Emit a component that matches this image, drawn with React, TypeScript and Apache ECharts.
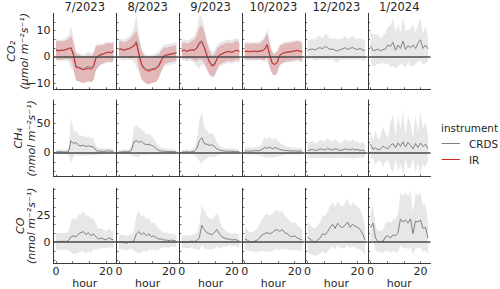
import React, { useEffect, useRef } from 'react';
import * as echarts from 'echarts';

const hours = [0, 1, 2, 3, 4, 5, 6, 7, 8, 9, 10, 11, 12, 13, 14, 15, 16, 17, 18, 19, 20, 21, 22, 23];
const months = ['7/2023', '8/2023', '9/2023', '10/2023', '12/2023', '1/2024'];

// CO2 (µmol m-2 s-1), CRDS instrument, mean and spread per month
const co2CrdsMean = [
  [2.8, 2.5, 2.3, 2.6, 2.9, 3.2, 3.6, 1.0, -3.5, -4.0, -4.2, -4.8, -4.0, -3.6, -4.2, -3.5, -0.2, 0.5, 1.0, 1.2, 1.5, 1.7, 1.6, 2.0],
  [3.0, 2.8, 2.6, 3.0, 3.2, 3.8, 4.5, 6.0, 1.5, -2.5, -4.0, -4.8, -5.0, -4.6, -4.5, -4.0, -3.0, -1.0, 0.5, 0.8, 1.0, 1.2, 1.3, 1.6],
  [2.5, 2.6, 2.2, 2.6, 2.8, 2.7, 3.4, 5.5, 6.2, 3.8, 0.8, -1.5, -3.0, -2.8, -0.8, 0.8, 1.2, 1.6, 2.0, 2.1, 1.8, 2.3, 2.5, 2.2],
  [2.2, 2.0, 2.1, 2.2, 2.0, 2.1, 2.3, 2.4, 3.0, 4.5, 0.8, -2.2, -2.8, -2.0, 0.6, 1.3, 1.6, 1.8, 2.0, 2.1, 2.3, 2.4, 2.1, 1.9],
  [2.5, 2.8, 3.0, 2.6, 3.2, 3.5, 3.0, 4.0, 3.5, 2.8, 3.0, 2.5, 2.2, 2.8, 3.0, 3.5, 2.8, 3.2, 3.6, 3.0, 2.8, 3.2, 2.6, 2.4],
  [4.2, 2.4, 2.5, 3.0, 2.2, 2.8, 3.0, 4.5, 4.0, 5.5, 2.5, 4.5, 3.2, 6.0, 2.8, 4.2, 3.5, 4.5, 3.2, 5.2, 6.5, 3.2, 4.5, 3.0],
];
const co2CrdsSd = [
  [4, 4, 4, 4, 4.5, 5, 8, 6.5, 5.5, 5.5, 5.5, 5.5, 5.5, 5.5, 5.5, 5.5, 5, 4.5, 4, 4, 4, 4, 4, 4],
  [4, 4, 4, 4, 4.5, 5, 6.5, 10, 7, 6, 5.5, 5.5, 5.5, 5.5, 5.5, 5.5, 5, 4.5, 4, 4, 4, 4, 4, 4],
  [4, 4, 4, 4, 4.5, 5, 7, 10, 9, 7, 6, 5.5, 5, 5, 5, 4.5, 4.5, 4.5, 4.5, 4.5, 4.5, 4.5, 4.5, 4.5],
  [3.5, 3.5, 3.5, 3.5, 3.5, 3.5, 3.5, 4, 5, 6, 5, 4.5, 4.5, 4.5, 4, 4, 4, 4, 4, 4, 4, 4, 4, 4],
  [3.5, 3.5, 4, 4, 4.5, 4.5, 4, 5, 4.5, 4, 4, 4.5, 4.5, 4, 4, 4.5, 4, 4, 4.5, 4, 4, 4, 4, 4],
  [6, 6, 6, 5.5, 5, 5, 6, 7, 8, 9, 7, 8, 6, 9, 7, 6, 7, 8, 6, 7, 8, 6, 7, 5],
];
// CO2, IR instrument (first four months only)
const co2IrMean = [
  [2.5, 2.2, 2.6, 2.4, 2.8, 3.0, 3.4, 0.5, -4.0, -4.2, -4.6, -5.0, -4.6, -4.4, -4.8, -3.8, -0.5, 0.3, 0.8, 1.0, 1.6, 1.8, 1.4, 2.2],
  [2.8, 3.0, 2.5, 2.8, 3.0, 3.5, 4.0, 5.2, 1.0, -3.0, -4.5, -5.2, -5.5, -5.0, -4.8, -4.5, -3.5, -1.5, 0.2, 0.5, 0.8, 1.0, 1.2, 1.5],
  [2.2, 2.5, 2.0, 2.4, 2.6, 2.5, 3.2, 5.0, 5.5, 3.5, 0.5, -2.0, -3.5, -3.2, -1.0, 0.5, 1.0, 1.5, 1.8, 2.0, 1.6, 2.2, 2.5, 2.0],
  [2.0, 2.1, 1.9, 2.0, 2.2, 2.0, 2.1, 2.3, 2.8, 4.7, 0.5, -2.5, -3.0, -2.2, 0.5, 1.2, 1.5, 1.8, 1.8, 2.0, 2.2, 2.5, 2.2, 1.8],
];
const co2IrSd = [
  [3.5, 3.5, 3.5, 3.5, 3.5, 3.8, 4.5, 5, 5, 5, 5, 5, 5, 5, 5, 5, 4.5, 4, 3.5, 3.5, 3.5, 3.5, 3.5, 3.5],
  [3, 3, 3, 3, 3.5, 4, 4.5, 5, 5.5, 5.5, 5, 5, 5, 5, 5, 5, 4.5, 4, 3.5, 3, 3, 3, 3, 3],
  [3, 3, 3, 3, 3.5, 4, 5, 6, 6.5, 6, 5, 4.5, 4, 4, 4, 3.5, 3.5, 3.5, 3.5, 3.5, 3.5, 3.5, 3.5, 3.5],
  [3, 3, 3, 3, 3, 3, 3, 3.5, 4, 4.5, 4.5, 4, 4, 4, 3.5, 3.5, 3.5, 3.5, 3.5, 3.5, 3.5, 3.5, 3.5, 3.5],
];
// CH4 (nmol m-2 s-1), CRDS
const ch4Mean = [
  [0.5, 0.8, 1.0, 0.6, 0.5, 0.8, 20, 15, 17, 12, 11, 12, 10, 11, 10, 9, 3, 2, 2, 1.5, 2, 2.5, 2, 1.5],
  [0.5, 0.5, 1, 0.8, 1, 3, 18, 20, 17, 19, 15, 13, 14, 12, 10, 6, 3, 2, 2, 1.5, 1, 1.5, 1, 1],
  [0.5, 0.5, 1, 0.5, 1, 2, 6, 20, 25, 15, 14, 12, 13, 10, 6, 4, 3, 2, 2, 2, 1.5, 1.5, 1, 1],
  [2, 2.5, 2, 2, 3, 2.5, 3, 5, 8, 7, 9, 6, 8, 7, 5, 4, 3, 3, 2.5, 2, 2.5, 2, 2, 2],
  [3, 4, 5, 3, 4, 6, 5, 4, 7, 5, 4, 6, 5, 3, 4, 6, 5, 4, 6, 4, 5, 3, 4, 2],
  [14, 5, 8, 4, 6, 10, 8, 6, 12, 15, 8, 16, 10, 18, 9, 17, 12, 6, 15, 8, 16, 10, 14, 6],
];
const ch4Sd = [
  [4, 4, 4, 4, 4, 5, 40, 22, 20, 18, 17, 17, 16, 16, 15, 14, 8, 6, 5, 5, 5, 5, 5, 4],
  [4, 4, 4, 4, 5, 8, 25, 28, 25, 22, 20, 18, 18, 16, 14, 10, 8, 6, 5, 5, 5, 5, 4, 4],
  [4, 4, 4, 4, 5, 6, 15, 35, 45, 28, 25, 20, 20, 18, 12, 8, 6, 5, 5, 5, 5, 5, 4, 4],
  [6, 6, 6, 6, 6, 7, 8, 12, 18, 16, 18, 15, 16, 14, 12, 10, 8, 7, 7, 6, 6, 6, 6, 6],
  [12, 14, 15, 12, 14, 16, 15, 14, 18, 15, 14, 17, 15, 12, 14, 16, 15, 14, 17, 14, 15, 12, 14, 10],
  [25, 15, 30, 18, 22, 35, 25, 18, 40, 50, 20, 48, 30, 55, 20, 45, 38, 18, 50, 25, 55, 30, 40, 20],
];
// CO (nmol m-2 s-1), CRDS
const coMean = [
  [0.5, 0.8, 0.5, 1, 0.5, 1.5, 5, 6, 5, 8, 9, 10, 7, 9, 6, 8, 5, 3, 4, 3, 2, 4, 3, 2],
  [0.5, 0, -0.5, -1, 0, 0.5, 1, 8, 10, 7, 9, 6, 8, 5, 6, 4, 3, 3, 2, 2, 1.5, 2, 1.5, 1],
  [0, 0.5, 0, 0.5, 1, 0.5, 1.5, 4, 16, 12, 9, 8, 7, 9, 12, 8, 5, 4, 3, 3, 2, 2.5, 2, 1],
  [3, 2, 0.5, 0, 1, 2, 4, 7, 8, 9, 8, 9, 11, 12, 10, 12, 9, 8, 6, 5, 6, 4, 3, 2],
  [5, 3, 1, 0, 2, 4, 8, 7, 10, 14, 17, 13, 18, 15, 14, 16, 19, 14, 17, 15, 14, 12, 8, 2],
  [14, 18, 4, 0.5, 0.5, 1, 5, 6, 4, 7, 6, 9, 22, 19, 21, 18, 22, 8, 20, 19, 21, 13, 14, 4],
];
const coSd = [
  [8, 8, 8, 8, 8, 9, 15, 17, 16, 18, 18, 19, 18, 17, 16, 15, 12, 10, 9, 9, 8, 9, 8, 8],
  [7, 7, 7, 7, 7, 7, 9, 18, 20, 17, 17, 15, 15, 13, 13, 12, 10, 8, 7, 7, 7, 6, 6, 6],
  [6, 6, 6, 6, 6, 7, 8, 12, 19, 18, 16, 15, 14, 15, 16, 14, 10, 8, 7, 6, 6, 6, 6, 6],
  [10, 10, 9, 9, 10, 11, 13, 15, 17, 18, 17, 18, 18, 19, 18, 18, 16, 15, 14, 13, 13, 12, 11, 10],
  [14, 14, 13, 13, 14, 15, 17, 18, 19, 20, 21, 20, 21, 20, 20, 21, 22, 20, 21, 20, 20, 19, 17, 14],
  [15, 16, 12, 10, 10, 11, 13, 14, 14, 15, 16, 18, 25, 25, 26, 25, 27, 20, 26, 25, 26, 22, 22, 15],
];

const co2TickLabels = [-10, 0, 10];
const ch4TickLabels = [0, 50];
const coTickLabels = [0, 25];
const hourTickLabels = [0, 20];

const FONT = 'DejaVu Sans';
const AXIS = '#3a3a3a';
const TXT = '#262626';
const GRAY = '#808080';
const RED = '#d62728';
const GRAY_BAND = 'rgba(128,128,128,0.19)';
const RED_BAND = 'rgba(214,39,40,0.24)';

const rowsCfg = [
  { min: -12.4, max: 16.6, step: 10 / 3, labels: co2TickLabels, top: 13.3, height: 76, name1: 'CO₂', name2: '(μmol m⁻²s⁻¹)', x1: 11, x2: 24 },
  { min: -42, max: 90, step: 50 / 3, labels: ch4TickLabels, top: 100, height: 76.7, name1: 'CH₄', name2: '(nmol m⁻²s⁻¹)', x1: 18, x2: 31 },
  { min: -20, max: 51, step: 25 / 3, labels: coTickLabels, top: 188.3, height: 75, name1: 'CO', name2: '(nmol m⁻²s⁻¹)', x1: 20, x2: 31 },
];

function ticksFor(min: number, max: number, step: number) {
  const out: number[] = [];
  const start = Math.ceil(min / step - 1e-9);
  for (let k = start; k * step <= max + 1e-9; k++) out.push(+(k * step).toFixed(4));
  return out;
}

const fmt = (v: number) => (v < 0 ? '−' + Math.abs(v) : String(v));

function band(g: number, mean: number[], sd: number[], color: string, z: number) {
  const lo = mean.map((v, i) => v - sd[i]);
  const hi = mean.map((v, i) => v + sd[i]);
  return {
    type: 'custom',
    xAxisIndex: g,
    yAxisIndex: g,
    z,
    silent: true,
    clip: true,
    data: hours.map((h, i) => [h, lo[i], hi[i]]),
    encode: { x: 0, y: [1, 2] },
    renderItem: (params: any, api: any) => {
      if (params.dataIndex !== 0) return null;
      const pts: number[][] = [];
      hours.forEach((h, i) => pts.push(api.coord([h, hi[i]])));
      for (let i = hours.length - 1; i >= 0; i--) pts.push(api.coord([hours[i], lo[i]]));
      return { type: 'polygon', shape: { points: pts }, style: { fill: color } };
    },
  };
}

function line(g: number, mean: number[], color: string, z: number, zero: boolean) {
  const s: any = {
    type: 'line',
    xAxisIndex: g,
    yAxisIndex: g,
    z,
    silent: true,
    symbol: 'none',
    showSymbol: false,
    lineStyle: { color, width: 1 },
    data: hours.map((h, i) => [h, mean[i]]),
  };
  if (zero) {
    s.markLine = {
      silent: true,
      symbol: ['none', 'none'],
      label: { show: false },
      lineStyle: { color: '#4a4a4a', width: 1.5, type: 'solid' },
      data: [{ yAxis: 0 }],
    };
  }
  return s;
}

function buildOption() {
  const grid: any[] = [];
  const xAxis: any[] = [];
  const yAxis: any[] = [];
  const series: any[] = [];
  const graphic: any[] = [];
  const colLeft = (c: number) => 53.5 + c * 62.9;
  const W = 62.5;
  const xTicks = ticksFor(-1, 24, 20 / 3);

  rowsCfg.forEach((row, r) => {
    const yTicks = ticksFor(row.min, row.max, row.step);
    months.forEach((m, c) => {
      const g = r * 6 + c;
      grid.push({ left: colLeft(c), top: row.top, width: W, height: row.height, containLabel: false, outerBoundsMode: 'none' });
      xAxis.push({
        type: 'value', gridIndex: g, min: -1, max: 24,
        axisLine: { show: true, onZero: false, lineStyle: { color: AXIS, width: 1 } },
        axisTick: { show: true, inside: true, length: 2, customValues: xTicks, lineStyle: { color: AXIS, width: 0.8 } },
        axisLabel: { show: r === 2, customValues: hourTickLabels, showMinLabel: true, showMaxLabel: true, fontSize: 11, fontFamily: FONT, color: TXT, margin: 3 },
        splitLine: { show: false },
        name: r === 2 ? 'hour' : '',
        nameLocation: 'middle',
        nameGap: 12,
        nameTextStyle: { fontSize: 11, fontFamily: FONT, color: TXT },
      });
      yAxis.push({
        type: 'value', gridIndex: g, min: row.min, max: row.max,
        axisLine: { show: true, onZero: false, lineStyle: { color: AXIS, width: 1 } },
        axisTick: { show: true, inside: true, length: 2, customValues: yTicks, lineStyle: { color: AXIS, width: 0.8 } },
        axisLabel: { show: c === 0, customValues: row.labels, showMinLabel: true, showMaxLabel: true, hideOverlap: false, formatter: fmt, fontSize: 11, fontFamily: FONT, color: TXT, margin: 3 },
        splitLine: { show: false },
      });
      if (r === 0) {
        series.push(band(g, co2CrdsMean[c], co2CrdsSd[c], GRAY_BAND, 1));
        if (c < co2IrMean.length) series.push(band(g, co2IrMean[c], co2IrSd[c], RED_BAND, 2));
        series.push(line(g, co2CrdsMean[c], GRAY, 3, true));
        if (c < co2IrMean.length) series.push(line(g, co2IrMean[c], RED, 4, false));
      } else if (r === 1) {
        series.push(band(g, ch4Mean[c], ch4Sd[c], GRAY_BAND, 1));
        series.push(line(g, ch4Mean[c], GRAY, 3, true));
      } else {
        series.push(band(g, coMean[c], coSd[c], GRAY_BAND, 1));
        series.push(line(g, coMean[c], GRAY, 3, true));
      }
    });
    const cy = row.top + row.height / 2;
    graphic.push({ type: 'text', x: row.x1, y: cy, rotation: Math.PI / 2, style: { text: row.name1, font: `italic 11px "${FONT}"`, fill: TXT, textAlign: 'center', textVerticalAlign: 'middle' } });
    graphic.push({ type: 'text', x: row.x2, y: cy, rotation: Math.PI / 2, style: { text: row.name2, font: `italic 11px "${FONT}"`, fill: TXT, textAlign: 'center', textVerticalAlign: 'middle' } });
  });

  months.forEach((m, c) => {
    graphic.push({ type: 'text', x: colLeft(c) + W / 2, y: 7, style: { text: m, font: `11.5px "${FONT}"`, fill: TXT, textAlign: 'center', textVerticalAlign: 'middle' } });
  });

  // legend
  graphic.push({ type: 'text', x: 441, y: 128, style: { text: 'instrument', font: `10.4px "${FONT}"`, fill: TXT, textAlign: 'left', textVerticalAlign: 'middle' } });
  graphic.push({ type: 'line', shape: { x1: 441.5, y1: 143.5, x2: 460, y2: 143.5 }, style: { stroke: GRAY, lineWidth: 1 } });
  graphic.push({ type: 'text', x: 469, y: 143.5, style: { text: 'CRDS', font: `10.4px "${FONT}"`, fill: TXT, textAlign: 'left', textVerticalAlign: 'middle' } });
  graphic.push({ type: 'line', shape: { x1: 441.5, y1: 159.5, x2: 460, y2: 159.5 }, style: { stroke: RED, lineWidth: 1 } });
  graphic.push({ type: 'text', x: 469, y: 159.5, style: { text: 'IR', font: `10.4px "${FONT}"`, fill: TXT, textAlign: 'left', textVerticalAlign: 'middle' } });

  return { animation: false, backgroundColor: '#ffffff', grid, xAxis, yAxis, series, graphic };
}

export default function App() {
  const ref = useRef<HTMLDivElement>(null);
  useEffect(() => {
    const chart = echarts.init(ref.current!, null, { renderer: 'svg' });
    chart.setOption(buildOption() as any);
    return () => chart.dispose();
  }, []);
  return <div ref={ref} style={{ position: 'fixed', left: 0, top: 0, width: 500, height: 289 }} />;
}
